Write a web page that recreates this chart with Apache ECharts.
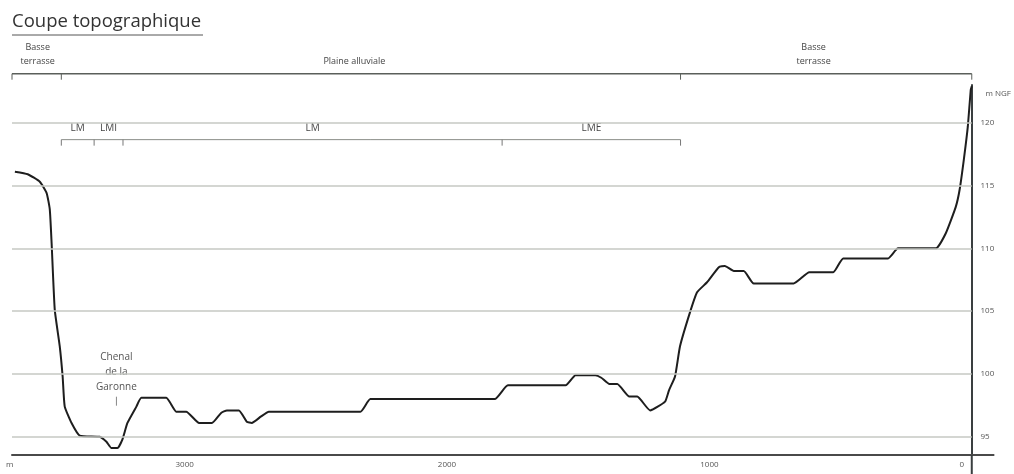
<!DOCTYPE html>
<html>
<head>
<meta charset="utf-8">
<script src="https://cdn.jsdelivr.net/npm/echarts@6/dist/echarts.min.js"></script>
<style>
html,body{margin:0;padding:0;background:#fff;}
#chart{width:1014px;height:474px;}
</style>
</head>
<body>
<div id="chart"></div>
<script>
// ---- data ----
const distance = [3647,3598,3552,3526,3514,3507,3495,3476,3465,3457,3431,3400,3324,3298,3279,3256,3237,3218,3184,3165,
  3070,3032,2994,2945,2896,2861,2839,2793,2763,2744,2710,2679,2330,2292,1818,1768,1548,1510,1435,1412,1381,1351,1305,1275,
  1226,1169,1154,1131,1112,1074,1047,1009,964,941,907,869,831,679,619,528,490,319,281,137,99,61,46,30,15,4,0];
const elevation = [116.1,115.9,115.3,114.4,113.1,110.4,105.1,102.2,99.8,97.4,96.1,95.1,95.0,94.6,94.1,94.1,94.8,96.1,97.4,98.1,
  98.1,97.0,97.0,96.1,96.1,96.9,97.1,97.1,96.2,96.1,96.6,97.0,97.0,98.0,98.0,99.1,99.1,99.9,99.9,99.7,99.2,99.2,98.2,98.2,
  97.1,97.8,98.7,99.8,102.2,104.9,106.5,107.3,108.5,108.6,108.2,108.2,107.2,107.2,108.1,108.1,109.2,109.2,110.0,110.0,111.2,113.3,114.7,117.1,119.7,122.6,122.9];
const yTicks = [95,100,105,110,115,120];
const xTicks = [0,1000,2000,3000];

const zoneBounds = [3658,3470,1110,0];
const zoneNames = ['Basse\nterrasse','Plaine alluviale','Basse\nterrasse'];
const zoneLabelAt = [3560,2353,603];
const zoneLevel = 123.9;

const unitBounds = [3470,3345,3235,1790,1110];
const unitNames = ['LM','LMI','LM','LME'];
const unitLevel = 118.65;

const channelText = 'Chenal\nde la\nGaronne';
const channelAt = 3260;
const channelLevel = 98.35;

const xMin = -83, xMax = 3658, yMin = 93.55, yMax = 123.0;

const FONT = '"Open Sans", "Noto Sans", sans-serif';
const chart = echarts.init(document.getElementById('chart'));

const option = {
  animation: false,
  backgroundColor: '#fff',
  grid: {left: 12, right: 16, top: 85, bottom: 19, containLabel: false},
  xAxis: {
    type: 'value', inverse: true, min: xMin, max: xMax,
    axisLine: {show: true, onZero: false, lineStyle: {color: '#4a4a4a', width: 2}},
    axisTick: {show: false},
    splitLine: {show: false},
    axisLabel: {
      customValues: xTicks,
      formatter: v => (v === 0 ? '{z|0}' : String(v)),
      rich: {z: {padding: [0, 20, 0, 0], color: '#555', fontSize: 8, fontFamily: FONT}},
      color: '#555', fontSize: 8, fontFamily: FONT, margin: 6
    }
  },
  yAxis: {
    type: 'value', position: 'right', offset: -22, min: yMin, max: yMax,
    name: 'm NGF', nameLocation: 'end', nameGap: -9,
    nameTextStyle: {align: 'left', verticalAlign: 'middle', color: '#555', fontSize: 8, fontFamily: FONT, padding: [0,0,0,14]},
    axisLine: {show: true, lineStyle: {color: '#3a3f40', width: 2}},
    axisTick: {show: false},
    splitLine: {show: false},
    axisLabel: {customValues: yTicks, formatter: v => String(v), color: '#555', fontSize: 8, fontFamily: FONT, margin: 9}
  },
  graphic: [
    {type: 'text', left: 12, top: 12, style: {text: 'Coupe topographique', fill: '#333', font: '18.5px ' + FONT}},
    {type: 'line', shape: {x1: 12, y1: 35, x2: 203, y2: 35}, style: {stroke: '#555', lineWidth: 1}},
    {type: 'text', left: 6, top: 461, style: {text: 'm', fill: '#555', font: '8px ' + FONT}}
  ],
  series: [
    {
      type: 'line', data: [], z: 1, silent: true,
      markLine: {
        silent: true, symbol: ['none','none'], animation: false,
        label: {show: false},
        lineStyle: {color: '#c6c9c3', width: 1.6, type: 'solid'},
        data: yTicks.map(v => [{coord: [xMax, v]}, {coord: [0, v]}])
      }
    },
    {
      type: 'line', z: 3, smooth: 0.15, showSymbol: false, symbol: 'none',
      data: distance.map((d, i) => [d, elevation[i]]),
      lineStyle: {color: '#1e1e1e', width: 2}
    },
    {
      type: 'custom', z: 4, silent: true, clip: false,
      data: [[0, yMin]],
      renderItem: function (params, api) {
        const children = [];
        const txt = (text, x, y, size, color, va) => ({
          type: 'text',
          style: {text: text, x: x, y: y, align: 'center', verticalAlign: va || 'bottom',
                  fill: color, fontSize: size, fontFamily: FONT, lineHeight: size + 5}
        });
        const ln = (x1, y1, x2, y2, color, w) => ({
          type: 'line', shape: {x1: x1, y1: y1, x2: x2, y2: y2},
          style: {stroke: color, lineWidth: w}
        });
        const base = api.coord([0, yMin]);
        children.push(ln(base[0], base[1], base[0], base[1] + 20, '#3a3f40', 2));
        const zA = api.coord([zoneBounds[0], zoneLevel]);
        const zB = api.coord([zoneBounds[zoneBounds.length - 1], zoneLevel]);
        children.push(ln(zA[0], zA[1], zB[0], zB[1], '#5a5f5a', 1.6));
        zoneBounds.forEach(b => {
          const p = api.coord([b, zoneLevel]);
          children.push(ln(p[0], p[1], p[0], p[1] + 6, '#5a5f5a', 1));
        });
        zoneNames.forEach((n, i) => {
          const p = api.coord([zoneLabelAt[i], zoneLevel]);
          children.push(txt(n, p[0], p[1] - 5, 9, '#444'));
        });
        const uA = api.coord([unitBounds[0], unitLevel]);
        const uB = api.coord([unitBounds[unitBounds.length - 1], unitLevel]);
        children.push(ln(uA[0], uA[1], uB[0], uB[1], '#8a8d88', 1));
        unitBounds.forEach(b => {
          const p = api.coord([b, unitLevel]);
          children.push(ln(p[0], p[1], p[0], p[1] + 6, '#777', 1));
        });
        unitNames.forEach((n, i) => {
          const p = api.coord([(unitBounds[i] + unitBounds[i + 1]) / 2, unitLevel]);
          children.push(txt(n, p[0], p[1] - 4, 10, '#444'));
        });
        const c = api.coord([channelAt, channelLevel]);
        children.push(txt(channelText, c[0], c[1], 10, '#555'));
        children.push(ln(c[0], c[1] + 2, c[0], c[1] + 11, '#888', 1));
        return {type: 'group', children: children};
      }
    }
  ]
};
chart.setOption(option);
</script>
</body>
</html>
